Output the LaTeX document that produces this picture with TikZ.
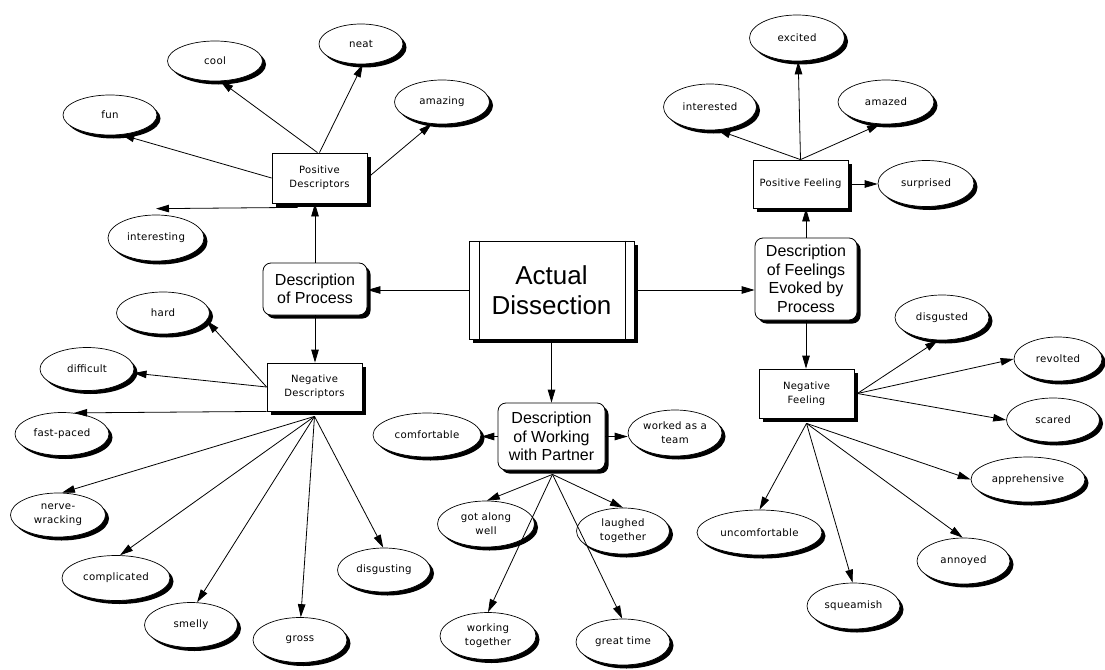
\documentclass[tikz,border=0pt]{standalone}
\usepackage{fontspec}
\setmainfont{Liberation Sans}
\newfontfamily\lblfont[LetterSpace=3]{DejaVu Sans}
\usetikzlibrary{shapes.geometric,shadows,arrows.meta,calc}
\begin{document}
\begin{tikzpicture}[x=1pt,y=-1pt,
  shd/.style={drop shadow={shadow xshift=3.5pt,shadow yshift=-3.5pt,fill=black,opacity=1}},
  oval/.style={ellipse,draw,fill=white,line width=0.7pt,inner sep=0pt,minimum width=94pt,minimum height=44pt,align=center,font=\lblfont\fontsize{10.2}{14}\selectfont,shd},
  sbox/.style={rectangle,draw,fill=white,line width=0.8pt,minimum width=95pt,minimum height=48pt,inner sep=0pt,align=center,font=\lblfont\fontsize{10}{14}\selectfont,shd},
  rbox/.style={rectangle,rounded corners=8pt,draw,fill=white,line width=0.8pt,inner sep=0pt,align=center,font=\fontsize{16}{18.5}\selectfont,shd},
  mainbox/.style={rectangle,draw,fill=white,line width=0.9pt,inner sep=0pt,align=center,font=\fontsize{26}{30}\selectfont,shd},
  arr/.style={-{Triangle[length=13pt,width=7.5pt]},line width=0.8pt},
]
\fill[white] (0,0) rectangle (1105,669);
\useasboundingbox (0,0) rectangle (1105,669);

% central and group boxes
\node[mainbox,minimum width=165pt,minimum height=98pt] (ad) at (551.5,290) {Actual\\Dissection};
\draw[line width=0.8pt] ([xshift=11pt]ad.north west) -- ([xshift=11pt]ad.south west);
\draw[line width=0.8pt] ([xshift=-9pt]ad.north east) -- ([xshift=-9pt]ad.south east);

\node[rbox,minimum width=104pt,minimum height=52pt] (dop) at (315,289) {Description\\of Process};
\node[rbox,minimum width=102pt,minimum height=82pt] (dof) at (806,279) {Description\\of Feelings\\Evoked by\\Process};
\node[rbox,minimum width=107pt,minimum height=67pt] (dow) at (551.5,436.5) {Description\\of Working\\with Partner};

\node[sbox,minimum height=50pt] (pd) at (319.5,178) {Positive\\Descriptors};
\node[sbox] (nd) at (314.5,387) {Negative\\Descriptors};
\node[sbox] (pf) at (800.5,184) {Positive Feeling};
\node[sbox,minimum height=49pt] (nf) at (806.5,393.5) {Negative\\Feeling};

% positive descriptors
\node[oval,minimum height=40pt] (fun) at (110,115) {fun};
\node[oval,minimum width=95pt,minimum height=40pt] (cool) at (215,61) {cool};
\node[oval,minimum width=84pt,minimum height=40pt] (neat) at (361,44) {neat};
\node[oval,minimum width=95pt] (amazing) at (442,102) {amazing};
\node[oval,minimum width=96pt,minimum height=46pt] (interesting) at (156,238) {interesting};

% negative descriptors
\node[oval,minimum width=93pt,minimum height=42pt] (hard) at (163,313) {hard};
\node[oval,minimum height=43pt] (difficult) at (87,369) {difficult};
\node[oval,minimum height=43pt] (fast) at (62,434) {fast-paced};
\node[oval,minimum width=95pt] (nerve) at (58,515) {nerve-\\wracking};
\node[oval,minimum width=108pt,minimum height=45pt] (compl) at (116,578) {complicated};
\node[oval,minimum width=93pt,minimum height=45pt] (smelly) at (191,625) {smelly};
\node[oval,minimum height=45pt] (gross) at (300,640) {gross};
\node[oval,minimum width=93pt] (disg) at (384,570) {disgusting};

% working with partner
\node[oval,minimum width=108pt] (com) at (427,435) {comfortable};
\node[oval,minimum height=46pt] (wat) at (675,433) {worked as a\\team};
\node[oval,minimum width=97pt,minimum height=46pt] (along) at (486,524) {got along\\well};
\node[oval,minimum width=93pt,minimum height=46pt] (laughed) at (623,531) {laughed\\together};
\node[oval,minimum width=96pt,minimum height=47pt] (working) at (488,636) {working\\together};
\node[oval,minimum height=46pt] (great) at (623,642) {great time};

% positive feeling
\node[oval,minimum width=95pt,minimum height=46pt] (excited) at (797,38) {excited};
\node[oval,minimum width=93pt,minimum height=46pt] (interested) at (710,107) {interested};
\node[oval,minimum width=96pt] (amazed) at (886,102) {amazed};
\node[oval,minimum width=96pt,minimum height=46pt] (sur) at (926,183.5) {surprised};

% negative feeling
\node[oval,minimum height=45pt] (disgusted) at (942,317.5) {disgusted};
\node[oval,minimum width=88pt] (revolted) at (1058,359) {revolted};
\node[oval,minimum width=93pt] (scared) at (1053,420) {scared};
\node[oval,minimum width=114pt,minimum height=45pt] (appr) at (1028,479.5) {apprehensive};
\node[oval,minimum width=93pt,minimum height=46pt] (annoyed) at (963.5,561) {annoyed};
\node[oval,minimum width=93pt,minimum height=46pt] (squeam) at (853.5,606) {squeamish};
\node[oval,minimum width=125pt,minimum height=45pt] (uncomf) at (759.5,532.5) {uncomfortable};

% main connectors
\draw[arr] (ad.west) -- (ad.west -| dop.east);
\draw[arr] (ad.east) -- (ad.east -| dof.west);
\draw[arr] (ad.south) -- (ad.south |- dow.north);
\draw[arr] (dop.north) -- (dop.north |- pd.south);
\draw[arr] (dop.south) -- (dop.south |- nd.north);
\draw[arr] (dof.north) -- (dof.north |- pf.south);
\draw[arr] (dof.south) -- (dof.south |- nf.north);
\draw[arr] (dow.west) -- (dow.west -| com.east);
\draw[arr] (dow.east) -- (dow.east -| wat.west);
\draw[arr] (pf.east) -- (pf.east -| sur.west);

% positive descriptors
\draw[arr] (pd.west) -- (fun.-60);
\draw[arr] ([xshift=-2pt]pd.north) -- (cool.-75);
\draw[arr] (pd.north) -- (neat.-85);
\draw[arr] (pd.east) -- (amazing.-115);
\draw[arr] ([xshift=-22pt,yshift=-4pt]pd.south) -- ([yshift=6pt]interesting.north);

% negative descriptors
\coordinate (ndb) at ([yshift=-5pt]nd.south);
\draw[arr] (nd.west) -- (hard.-10);
\draw[arr] (nd.west) -- (difficult.-5);
\draw[arr] (nd.south west) -- (fast.60);
\draw[arr] (ndb) -- (nerve.80);
\draw[arr] (ndb) -- (compl.80);
\draw[arr] (ndb) -- (smelly.75);
\draw[arr] (ndb) -- (gross.88);
\draw[arr] (ndb) -- (disg.92);

% working with partner
\coordinate (dwb) at ([xshift=1pt,yshift=-4pt]dow.south);
\draw[arr] (dwb) -- (along.88);
\draw[arr] (dwb) -- (working.90);
\draw[arr] (dwb) -- (laughed.90);
\draw[arr] (dwb) -- (great.92);

% positive feeling
\draw[arr] (pf.north) -- (excited.-87);
\draw[arr] (pf.north) -- (interested.-72);
\draw[arr] (pf.north) -- (amazed.-105);

% negative feeling
\coordinate (nfr) at ([xshift=3pt]nf.east);
\coordinate (nfb) at ([yshift=-5pt]nf.south);
\draw[arr] (nfr) -- (disgusted.-100);
\draw[arr] (nfr) -- (revolted.180);
\draw[arr] (nfr) -- (scared.180);
\draw[arr] (nfb) -- (appr.180);
\draw[arr] (nfb) -- (annoyed.92);
\draw[arr] (nfb) -- (squeam.92);
\draw[arr] (nfb) -- (uncomf.90);
\end{tikzpicture}
\end{document}
